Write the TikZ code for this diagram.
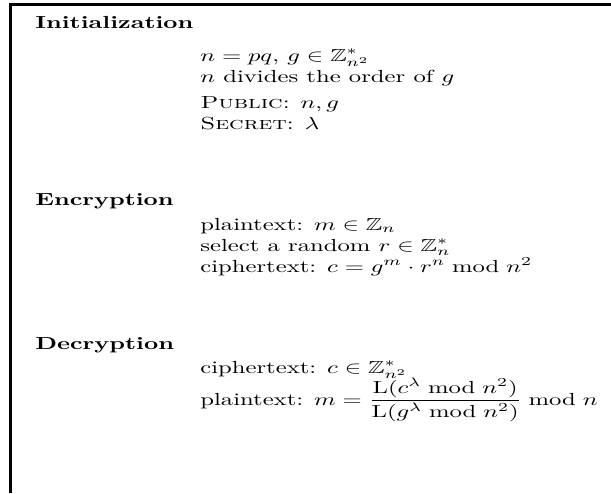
\documentclass[tikz,border=0pt]{standalone}
\usepackage{amssymb}
\usepackage{amsmath}
\usepackage{graphicx}
\usepackage{tikz}
\newcommand{\stretchtext}[1]{\scalebox{1.41}[1]{#1}}
\tikzset{
    head/.style={anchor=base west, inner sep=0pt, font=\bfseries},
    txt/.style={anchor=base west, inner sep=0pt},
    frame/.style={line width=1.7pt}
}

\begin{document}
\begin{tikzpicture}[x=0.5714pt, y=-0.5714pt]
    \useasboundingbox (0, 0) rectangle (611, 493);

    % frame (only top and left edge visible)
    \coordinate (tr) at (611, 4.5);
    \coordinate (tl) at (10.5, 4.5);
    \coordinate (bl) at (10.5, 493);
    \draw[frame] (tr) -- (tl) -- (bl);

    % initialization
    \node[head] (init) at (35, 28) {\stretchtext{Initialization}};
    \node[txt] (initA) at (200, 61) {\stretchtext{$n=pq$, $g\in\mathbb{Z}^*_{n^2}$}};
    \node[txt] (initB) at (200, 82) {\stretchtext{$n$ divides the order of $g$}};
    \node[txt] (pub) at (200, 108) {\stretchtext{\textsc{Public}: $n,g$}};
    \node[txt] (sec) at (200, 129) {\stretchtext{\textsc{Secret}: $\lambda$}};

    % encryption
    \node[head] (enc) at (35, 205) {\stretchtext{Encryption}};
    \node[txt] (encA) at (200, 230) {\stretchtext{plaintext: $m\in\mathbb{Z}_n$}};
    \node[txt] (encB) at (200, 251) {\stretchtext{select a random $r\in\mathbb{Z}^*_n$}};
    \node[txt] (encC) at (200, 272) {\stretchtext{ciphertext: $c=g^m\cdot r^n \bmod n^2$}};

    % decryption
    \node[head] (dec) at (35, 349) {\stretchtext{Decryption}};
    \node[txt] (decA) at (200, 373) {\stretchtext{ciphertext: $c\in\mathbb{Z}^*_{n^2}$}};
    \node[txt] (decB) at (200, 405) {\stretchtext{plaintext: $m=\dfrac{\mathrm{L}(c^\lambda \bmod n^2)}{\mathrm{L}(g^\lambda \bmod n^2)} \bmod n$}};
\end{tikzpicture}
\end{document}
